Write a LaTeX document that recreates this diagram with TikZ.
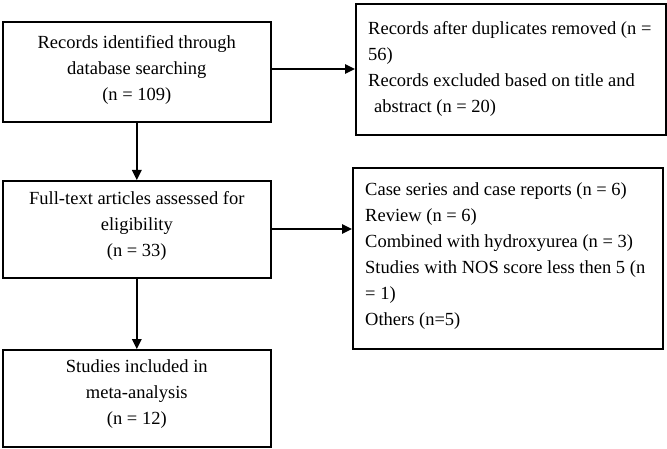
\documentclass[tikz,border=0pt]{standalone}
\usepackage{fontspec}
\setmainfont{Liberation Serif}
\usetikzlibrary{arrows.meta}
\begin{document}
\begin{tikzpicture}[x=1pt,y=-1pt,
  box/.style={draw,line width=1.6pt,inner sep=0pt,anchor=north west},
  txt/.style={font=\fontsize{18.5}{26}\selectfont,inner sep=0pt},
  arr/.style={line width=1.6pt,-{Triangle[length=10pt,width=9.5pt]}}]
\useasboundingbox (0,0) rectangle (667,449);
% left column
\node[box,minimum width=268,minimum height=100] (b1) at (2,21) {};
\node[txt,align=center] (t1) at ([yshift=2]b1.center) {Records identified through\\database searching\\(n = 109)};
\node[box,minimum width=268,minimum height=97] (b3) at (2,180) {};
\node[txt,align=center] (t3) at ([yshift=3]b3.center) {Full-text articles assessed for\\eligibility\\(n = 33)};
\node[box,minimum width=268,minimum height=97] (b5) at (2,349) {};
\node[txt,align=center] (t5) at ([yshift=4]b5.center) {Studies included in\\meta-analysis\\(n = 12)};
% right column
\node[box,minimum width=310,minimum height=131] (b2) at (355,3) {};
\node[txt,align=left,anchor=west] (t2) at ([xshift=13]b2.west) {Records after duplicates removed (n =\\56)\\Records excluded based on title and\\\hspace{6pt}abstract (n = 20)};
\node[box,minimum width=310,minimum height=181] (b4) at (352,167) {};
\node[txt,align=left,anchor=west] (t4) at ([xshift=13,yshift=2]b4.west) {Case series and case reports (n = 6)\\Review (n = 6)\\Combined with hydroxyurea (n = 3)\\Studies with NOS score less then 5 (n\\= 1)\\Others (n=5)};
% arrows
\draw[arr] (b1.south) -- (b3.north);
\draw[arr] (b3.south) -- (b5.north);
\draw[arr] (b1.east |- 0,69) -- (b2.west |- 0,69);
\draw[arr] (b3.east |- 0,229) -- (b4.west |- 0,229);
\end{tikzpicture}
\end{document}
